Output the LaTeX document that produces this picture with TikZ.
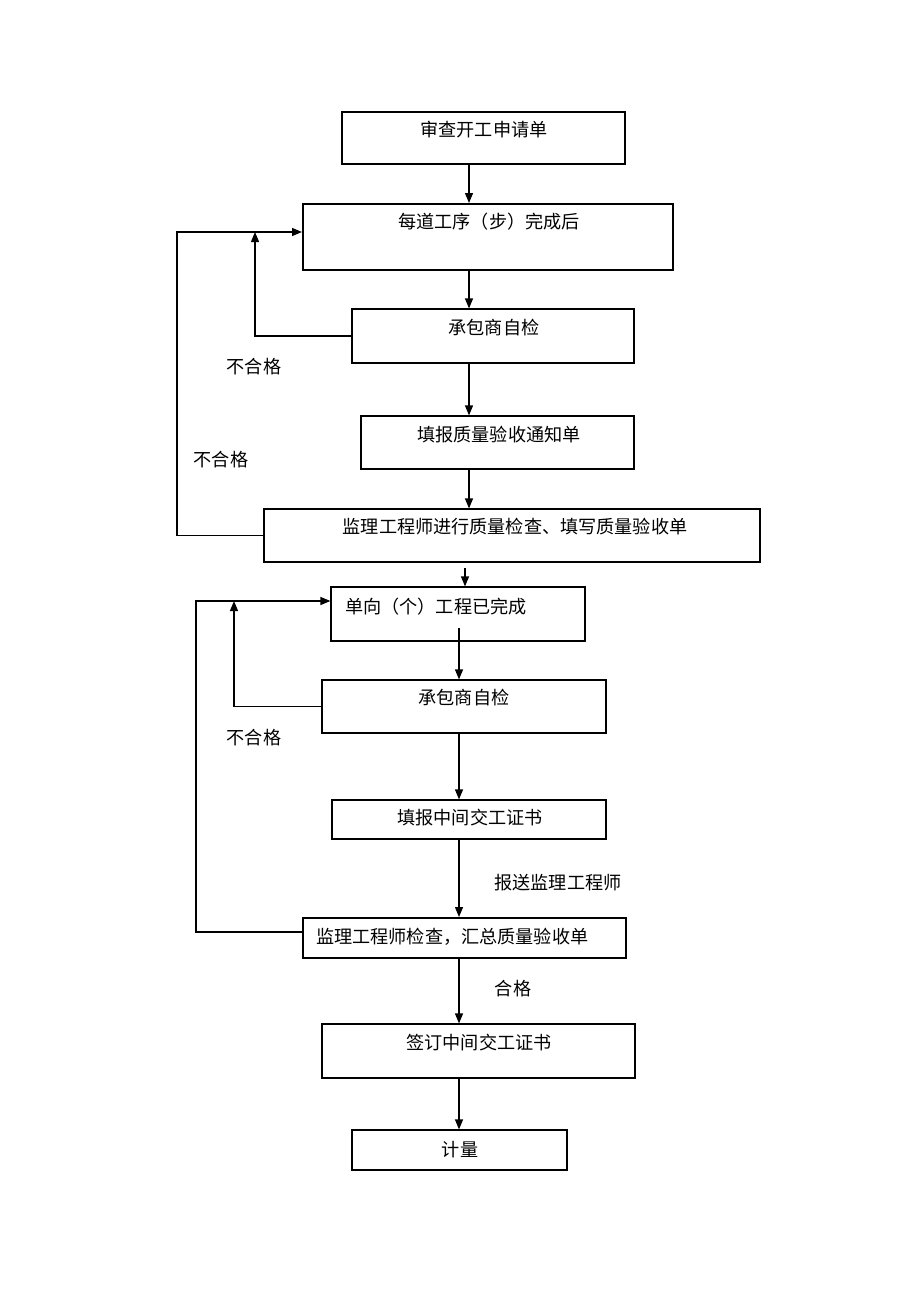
\documentclass[tikz,border=0pt]{standalone}
\usepackage{fontspec}
\newfontfamily\cjk{Noto Sans CJK SC}
\usetikzlibrary{arrows.meta,fit,calc}
\begin{document}
\begin{tikzpicture}[x=0.75pt,y=-0.75pt,
  box/.style={draw=black,line width=0.9pt,inner sep=0pt,rectangle},
  thick box/.style={box,line width=1.5pt},
  txt/.style={font=\cjk\fontsize{13.6}{16}\selectfont,inner sep=0pt,text=black},
  arr/.style={draw=black,line width=0.9pt,-{Triangle[length=7.5pt,width=6pt]}},
  ln/.style={draw=black,line width=0.9pt}]
\fill[white] (0,0) rectangle (920,1302);
\useasboundingbox (0,0) rectangle (920,1302);
% boxes
\node[box,fit={(342,112) (625,164)}] (b1) {};
\node[thick box,fit={(303,204) (673,270)}] (b2) {};
\node[box,fit={(352,309) (634,363)}] (b3) {};
\node[box,fit={(361,416) (634,469)}] (b4) {};
\node[box,fit={(264,509) (760,562)}] (b5) {};
\node[box,fit={(331,587) (585,641)}] (b6) {};
\node[box,fit={(322,680) (606,733)}] (b7) {};
\node[box,fit={(332,800) (606,839)}] (b8) {};
\node[thick box,fit={(303,918) (626,958)}] (b9) {};
\node[box,fit={(322,1024) (635,1078)}] (b10) {};
\node[box,fit={(352,1130) (567,1170)}] (b11) {};
% texts
\node[txt] (t1) at (484,130) {审查开工申请单};
\node[txt] (t2) at (489,222) {每道工序（步）完成后};
\node[txt] (t3) at (494,328) {承包商自检};
\node[txt] (t4) at (499,435) {填报质量验收通知单};
\node[txt] (t5) at (515,527) {监理工程师进行质量检查、填写质量验收单};
\node[txt,anchor=west] (t6) at (345,607) {单向（个）工程已完成};
\node[txt] (t7) at (464,698) {承包商自检};
\node[txt] (t8) at (470,818) {填报中间交工证书};
\node[txt,anchor=west] (t9) at (316,937) {监理工程师检查，汇总质量验收单};
\node[txt] (t10) at (479,1043) {签订中间交工证书};
\node[txt] (t11) at (460,1150) {计量};
% labels
\node[txt] (l1) at (254,367) {不合格};
\node[txt] (l2) at (221,460) {不合格};
\node[txt] (l3) at (254,738) {不合格};
\node[txt] (l4) at (558,883) {报送监理工程师};
\node[txt] (l5) at (513,989) {合格};
% axis coordinates
\coordinate (ax1) at (469,0);
\coordinate (ax2) at (459,0);
\coordinate (s5) at (465,568);
\coordinate (s6) at (459,628);
\coordinate (e2) at ($(b2.west)+(0,-5)$);
\coordinate (e6) at ($(b6.west)+(0,-13)$);
\coordinate (j1) at (255,232);
\coordinate (j2) at (177,232);
\coordinate (j3) at (234,601);
\coordinate (j4) at (196,601);
\coordinate (w9) at ($(b9.west)+(0,-6)$);
% main arrows
\draw[arr] (b1.south -| ax1) -- (b2.north -| ax1);
\draw[arr] (b2.south -| ax1) -- (b3.north -| ax1);
\draw[arr] (b3.south -| ax1) -- (b4.north -| ax1);
\draw[arr] (b4.south -| ax1) -- (b5.north -| ax1);
\draw[arr] (s5) -- (s5 |- b6.north);
\draw[arr] (s6) -- (s6 |- b7.north);
\draw[arr] (b7.south -| ax2) -- (b8.north -| ax2);
\draw[arr] (b8.south -| ax2) -- (b9.north -| ax2);
\draw[arr] (b9.south -| ax2) -- (b10.north -| ax2);
\draw[arr] (b10.south -| ax2) -- (b11.north -| ax2);
% loops
\draw[arr] (b3.west) -| (j1);
\draw[arr] (b5.west) -| (j2) -- (e2);
\draw[arr] (b7.west) -| (j3);
\draw[arr] (w9) -| (j4) -- (e6);
\end{tikzpicture}
\end{document}
